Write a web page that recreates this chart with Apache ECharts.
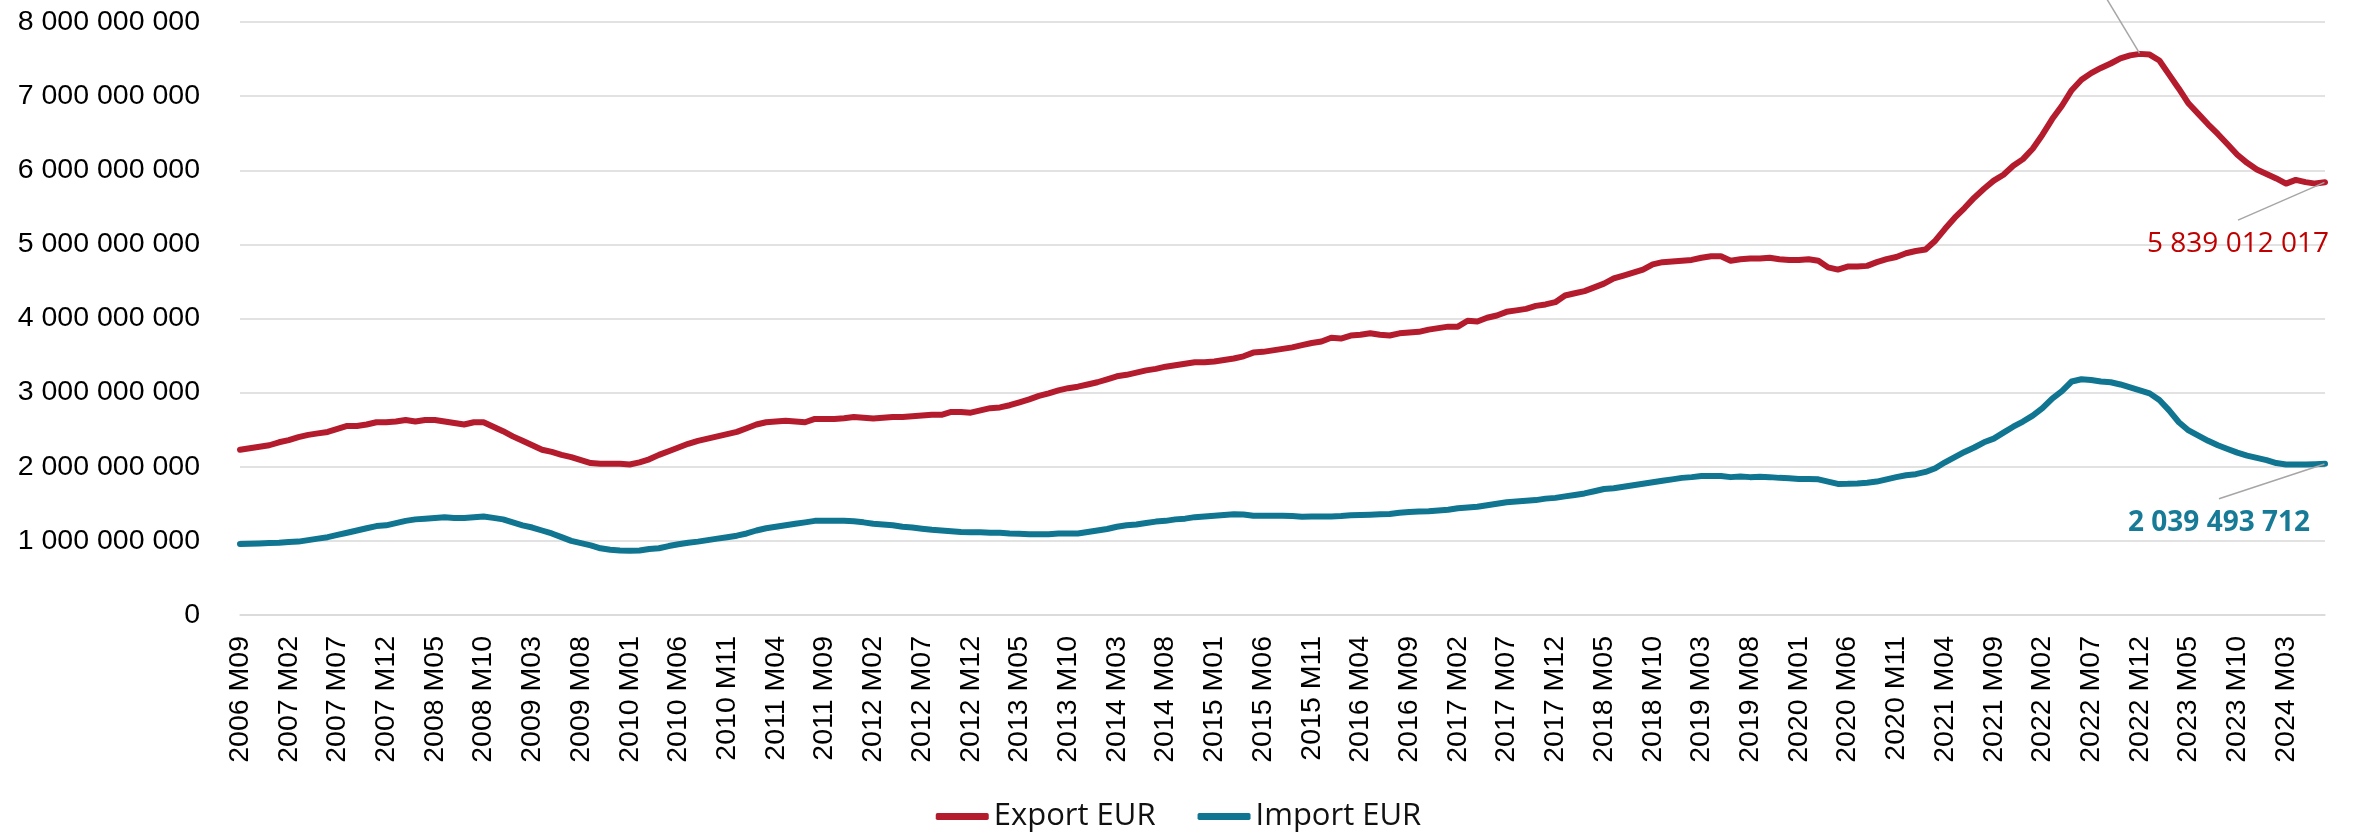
<!DOCTYPE html>
<html lang="en">
<head>
    <meta charset="UTF-8">
    <title>Export / Import EUR</title>
    <script src="https://cdn.jsdelivr.net/npm/echarts@6/dist/echarts.min.js"></script>
    <style>
        * { margin: 0; padding: 0 }
        html, body { width: 100%; height: 100%; background: #fff }
        #main { width: 2357px; height: 834px }
    </style>
</head>
<body>
    <div id="main"></div>
    <script type="text/javascript">
        // monthly values, billions of EUR, first month 2006 M09
        var startYear = 2006, startMonth = 9;
        var exportEur = [
            2.23, 2.25, 2.27, 2.29, 2.33, 2.36, 2.40, 2.43, 2.45, 2.47,
            2.51, 2.55, 2.55, 2.57, 2.60, 2.60, 2.61, 2.63, 2.61, 2.63,
            2.63, 2.61, 2.59, 2.57, 2.60, 2.60, 2.54, 2.48, 2.41, 2.35,
            2.29, 2.23, 2.20, 2.16, 2.13, 2.09, 2.05, 2.04, 2.04, 2.04,
            2.03, 2.06, 2.10, 2.16, 2.21, 2.26, 2.31, 2.35, 2.38, 2.41,
            2.44, 2.47, 2.52, 2.57, 2.60, 2.61, 2.62, 2.61, 2.60, 2.645,
            2.645, 2.645, 2.655, 2.67, 2.66, 2.65, 2.66, 2.67, 2.67, 2.68,
            2.69, 2.70, 2.70, 2.74, 2.74, 2.73, 2.76, 2.79, 2.80, 2.83,
            2.87, 2.91, 2.955, 2.99, 3.03, 3.06, 3.08, 3.11, 3.14, 3.18,
            3.22, 3.24, 3.27, 3.30, 3.32, 3.35, 3.37, 3.39, 3.41, 3.41,
            3.42, 3.44, 3.46, 3.49, 3.54, 3.55, 3.57, 3.59, 3.61, 3.64,
            3.67, 3.69, 3.74, 3.73, 3.77, 3.78, 3.80, 3.78, 3.77, 3.80,
            3.81, 3.82, 3.85, 3.87, 3.89, 3.89, 3.97, 3.96, 4.01, 4.04,
            4.09, 4.11, 4.13, 4.17, 4.19, 4.22, 4.31, 4.34, 4.37, 4.42,
            4.47, 4.54, 4.58, 4.62, 4.66, 4.73, 4.76, 4.77, 4.78, 4.79,
            4.82, 4.84, 4.84, 4.78, 4.80, 4.81, 4.81, 4.82, 4.80, 4.79,
            4.79, 4.80, 4.78, 4.69, 4.66, 4.70, 4.70, 4.71, 4.76, 4.80,
            4.83, 4.88, 4.91, 4.93, 5.05, 5.21, 5.36, 5.49, 5.63, 5.75,
            5.86, 5.94, 6.06, 6.15, 6.29, 6.48, 6.69, 6.87, 7.08, 7.22,
            7.31, 7.38, 7.44, 7.51, 7.55, 7.57, 7.56, 7.48, 7.29, 7.10,
            6.90, 6.76, 6.62, 6.49, 6.35, 6.21, 6.10, 6.01, 5.95, 5.89,
            5.82, 5.87, 5.84, 5.82, 5.839012017
        ];
        var importEur = [
            0.958, 0.962, 0.965, 0.970, 0.975, 0.985, 0.99, 1.01, 1.03, 1.05,
            1.08, 1.11, 1.14, 1.17, 1.20, 1.21, 1.24, 1.27, 1.29, 1.30,
            1.31, 1.32, 1.31, 1.31, 1.32, 1.33, 1.31, 1.29, 1.25, 1.21,
            1.18, 1.14, 1.10, 1.05, 1.00, 0.97, 0.94, 0.90, 0.88, 0.87,
            0.868, 0.87, 0.89, 0.90, 0.93, 0.955, 0.975, 0.99, 1.01, 1.03,
            1.05, 1.07, 1.10, 1.14, 1.17, 1.19, 1.21, 1.23, 1.25, 1.27,
            1.27, 1.27, 1.27, 1.265, 1.25, 1.23, 1.22, 1.21, 1.19, 1.18,
            1.165, 1.15, 1.14, 1.13, 1.12, 1.115, 1.115, 1.11, 1.11, 1.10,
            1.095, 1.09, 1.09, 1.09, 1.10, 1.10, 1.10, 1.12, 1.14, 1.16,
            1.19, 1.21, 1.22, 1.24, 1.26, 1.27, 1.29, 1.30, 1.32, 1.33,
            1.34, 1.35, 1.36, 1.355, 1.34, 1.34, 1.34, 1.34, 1.335, 1.327,
            1.33, 1.33, 1.33, 1.336, 1.345, 1.35, 1.354, 1.36, 1.363, 1.38,
            1.39, 1.395, 1.40, 1.41, 1.42, 1.44, 1.45, 1.46, 1.48, 1.50,
            1.52, 1.53, 1.54, 1.55, 1.57, 1.58, 1.60, 1.62, 1.64, 1.67,
            1.70, 1.71, 1.73, 1.75, 1.77, 1.79, 1.81, 1.83, 1.85, 1.86,
            1.876, 1.876, 1.876, 1.86, 1.87, 1.86, 1.865, 1.86, 1.85, 1.845,
            1.835, 1.835, 1.83, 1.80, 1.768, 1.77, 1.775, 1.785, 1.80, 1.83,
            1.86, 1.885, 1.90, 1.93, 1.98, 2.06, 2.13, 2.20, 2.26, 2.33,
            2.38, 2.46, 2.54, 2.61, 2.69, 2.79, 2.92, 3.02, 3.15, 3.18,
            3.17, 3.15, 3.14, 3.11, 3.07, 3.03, 2.99, 2.90, 2.76, 2.60,
            2.49, 2.42, 2.35, 2.29, 2.24, 2.19, 2.15, 2.12, 2.09, 2.05,
            2.03, 2.03, 2.03, 2.035, 2.039493712
        ];
        var seriesNames = ['Export EUR', 'Import EUR'];
        var peakIndex = 195;

        var months = [];
        for (var i = 0; i < exportEur.length; i++) {
            var m = startMonth - 1 + i;
            var y = startYear + Math.floor(m / 12);
            var mm = (m % 12) + 1;
            months.push(y + ' M' + (mm < 10 ? '0' + mm : mm));
        }

        function fmt(v) {
            return String(Math.round(v)).replace(/\B(?=(\d{3})+(?!\d))/g, ' ');
        }

        // label centre offsets from the point
        var labelSpots = {
            'Export EUR': { last: [-87, 62], peak: [-50, -107] },
            'Import EUR': { last: [-106, 59] }
        };

        function buildData(values, name, color, bold) {
            return values.map(function (v, idx) {
                var val = Math.round(v * 1e9);
                var isLast = idx === values.length - 1;
                var isPeak = name === 'Export EUR' && idx === peakIndex;
                if (!isLast && !isPeak) return val;
                return {
                    value: val,
                    symbol: 'circle',
                    symbolSize: 1,
                    label: {
                        show: true,
                        position: 'inside',
                        align: 'center',
                        verticalAlign: 'middle',
                        formatter: function (p) { return fmt(p.value); },
                        color: color,
                        fontFamily: 'Open Sans',
                        fontSize: 28,
                        fontWeight: bold ? 'bold' : 'normal',
                        // transparent box so the guide line leaves from the top centre
                        backgroundColor: 'rgba(255,255,255,0)',
                        padding: isLast ? [10, 160, 10, 160] : [10, 10, 10, 10]
                    },
                    labelLine: {
                        show: true,
                        lineStyle: { color: '#A6A6A6', width: 1.5 }
                    }
                };
            });
        }

        var myChart = echarts.init(document.getElementById('main'), null, { renderer: 'canvas' });
        var option = {
            animation: false,
            backgroundColor: '#fff',
            color: ['#B41B2D', '#0F7591'],
            grid: {
                left: 240,
                right: 32,
                top: 22,
                bottom: 219,
                outerBoundsMode: 'none'
            },
            legend: {
                data: seriesNames,
                top: 796,
                left: 'center',
                icon: 'roundRect',
                itemWidth: 53,
                itemHeight: 7,
                itemGap: 42,
                textStyle: { fontFamily: 'Open Sans', fontSize: 31, color: '#111' }
            },
            xAxis: {
                type: 'category',
                data: months,
                boundaryGap: false,
                axisTick: { show: false },
                axisLine: { lineStyle: { color: '#D9D9D9', width: 1.5 } },
                axisLabel: {
                    interval: 4,
                    rotate: 90,
                    margin: 21,
                    fontFamily: 'Liberation Sans',
                    fontSize: 28.5,
                    color: '#000'
                }
            },
            yAxis: {
                type: 'value',
                min: 0,
                max: 8e9,
                interval: 1e9,
                axisLine: { show: false },
                axisTick: { show: false },
                splitLine: { lineStyle: { color: '#D9D9D9', width: 1.5 } },
                axisLabel: {
                    margin: 40,
                    fontFamily: 'Liberation Sans',
                    fontSize: 28.5,
                    color: '#000',
                    formatter: fmt
                }
            },
            series: [{
                name: 'Export EUR',
                type: 'line',
                symbol: 'none',
                showSymbol: true,
                showAllSymbol: true,
                lineStyle: { width: 6, cap: 'round', join: 'round' },
                data: buildData(exportEur, 'Export EUR', '#C00000', false),
                labelLayout: function (p) { return placeLabel(p, 'Export EUR'); }
            }, {
                name: 'Import EUR',
                type: 'line',
                symbol: 'none',
                showSymbol: true,
                showAllSymbol: true,
                lineStyle: { width: 6, cap: 'round', join: 'round' },
                data: buildData(importEur, 'Import EUR', '#177B97', true),
                labelLayout: function (p) { return placeLabel(p, 'Import EUR'); }
            }]
        };

        function placeLabel(p, name) {
            var spots = labelSpots[name];
            var off = p.dataIndex === peakIndex && spots.peak ? spots.peak : spots.last;
            var cx = p.rect.x + p.rect.width / 2;
            var cy = p.rect.y + p.rect.height / 2;
            return { x: cx + off[0], y: cy + off[1] };
        }

        myChart.setOption(option);
    </script>
</body>
</html>
